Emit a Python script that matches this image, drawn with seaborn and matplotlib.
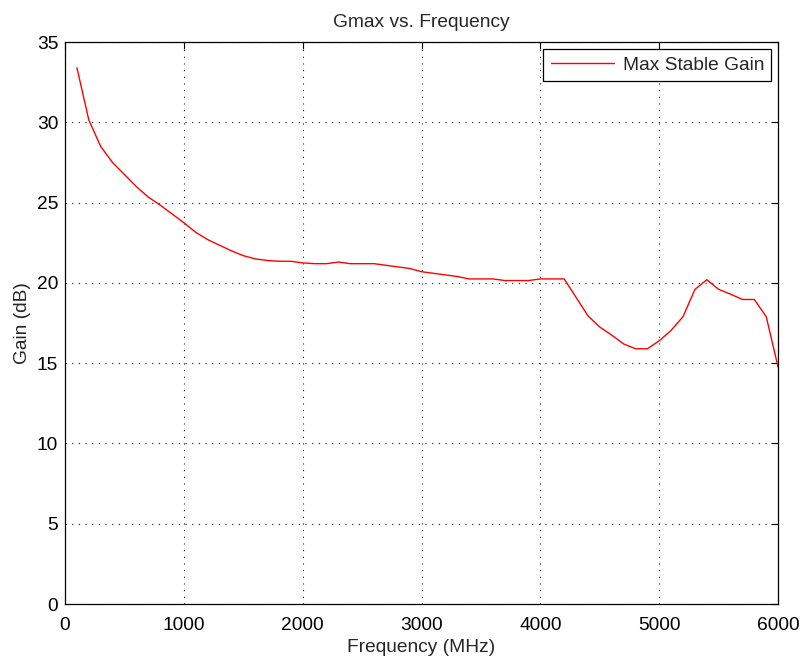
import matplotlib
matplotlib.use("Agg")
import matplotlib.pyplot as plt
import seaborn as sns
import pandas as pd

freq_mhz = [100, 200, 300, 400, 500, 600, 700, 800, 900, 1000,
            1100, 1200, 1300, 1400, 1500, 1600, 1700, 1800, 1900, 2000,
            2100, 2200, 2300, 2400, 2500, 2600, 2700, 2800, 2900, 3000,
            3100, 3200, 3300, 3400, 3500, 3600, 3700, 3800, 3900, 4000,
            4100, 4200, 4300, 4400, 4500, 4600, 4700, 4800, 4900, 5000,
            5100, 5200, 5300, 5400, 5500, 5600, 5700, 5800, 5900, 6000]
gain_db = [33.4, 30.15, 28.5, 27.5, 26.75, 26.0, 25.35, 24.85, 24.3, 23.75,
           23.15, 22.7, 22.35, 22.0, 21.7, 21.5, 21.4, 21.35, 21.35, 21.25,
           21.2, 21.2, 21.3, 21.2, 21.2, 21.2, 21.1, 21.0, 20.9, 20.7,
           20.6, 20.5, 20.4, 20.25, 20.25, 20.25, 20.15, 20.15, 20.15, 20.25,
           20.25, 20.25, 19.1, 17.95, 17.25, 16.75, 16.2, 15.9, 15.9, 16.4,
           17.05, 17.9, 19.6, 20.2, 19.6, 19.3, 18.97, 18.97, 17.9, 14.75]
series_name = "Max Stable Gain"
x_ticks = [0, 1000, 2000, 3000, 4000, 5000, 6000]
y_ticks = [0, 5, 10, 15, 20, 25, 30, 35]

df = pd.DataFrame({"Frequency (MHz)": freq_mhz, "Gain (dB)": gain_db, "series": series_name})

sns.set_theme(style="white")
plt.rcParams['font.family'] = ['Liberation Sans', 'DejaVu Sans']

FS = 13.8
fig = plt.figure(figsize=(8.03, 6.58), dpi=100)
ax = fig.add_axes([0.081, 0.082, 0.888, 0.854])

sns.lineplot(data=df, x="Frequency (MHz)", y="Gain (dB)", hue="series",
             palette=["#ff0000"], linewidth=1.0, ax=ax)

ax.set_xlim(0, 6000)
ax.set_ylim(0, 35)
ax.set_xticks(x_ticks)
ax.set_yticks(y_ticks)
ax.tick_params(axis="both", direction="in", length=5, width=0.8, labelsize=FS,
               top=True, right=True, colors="black", pad=5)
ax.tick_params(axis="x", pad=9.5)
ax.grid(True, linestyle=(0, (1, 5)), color="black", linewidth=0.8, alpha=0.9)
for sp in ax.spines.values():
    sp.set_visible(True)
    sp.set_color("black")
    sp.set_linewidth(0.9)

ax.set_xlabel("Frequency (MHz)", fontsize=FS, labelpad=3.5)
ax.set_ylabel("Gain (dB)", fontsize=FS, labelpad=4)
ax.set_title("Gmax vs. Frequency", fontsize=FS, pad=11)

leg = ax.legend(loc="upper right", fontsize=FS, frameon=True, fancybox=False,
                borderaxespad=0.35, handlelength=3.3, handletextpad=0.45,
                borderpad=0.38)
leg.get_frame().set_edgecolor("black")
leg.get_frame().set_linewidth(0.9)
leg.get_frame().set_alpha(1)

fig.savefig("out.png", dpi=100)
